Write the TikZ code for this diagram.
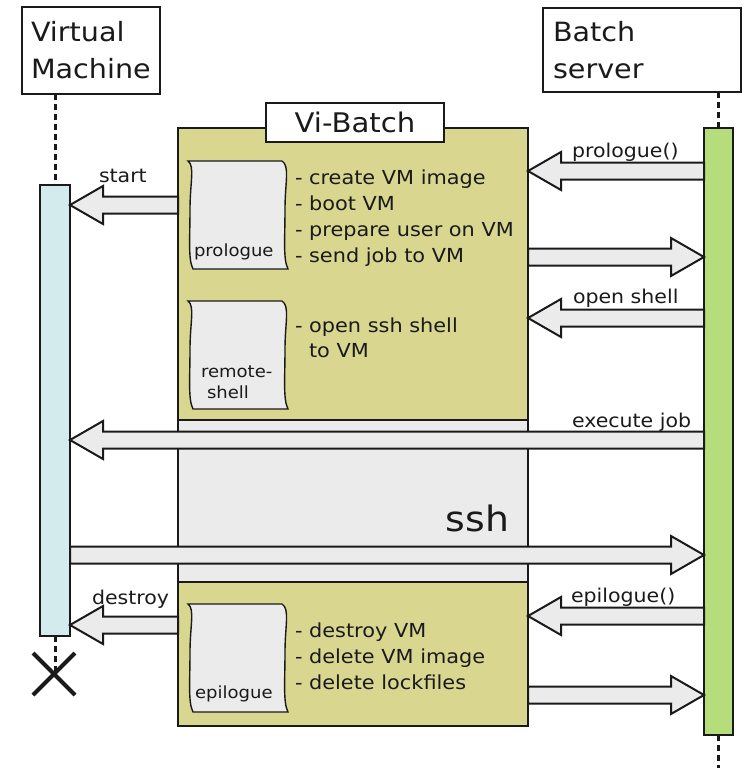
\documentclass[tikz,border=0pt]{standalone}
\usepackage{fontspec}
\setmainfont{DejaVu Sans}[FakeStretch=1.08]
\usetikzlibrary{calc}
\definecolor{olivebox}{HTML}{D9D690}
\definecolor{panelgray}{HTML}{EBEBEB}
\definecolor{srvgreen}{HTML}{B5DD7C}
\definecolor{vmblue}{HTML}{D4EBEE}
\definecolor{ink}{HTML}{1A1A1A}

\begin{document}
\begin{tikzpicture}[x=1pt,y=-1pt,
  every node/.style={inner sep=0pt, outer sep=0pt},
  header/.style={draw=ink, line width=2.5pt, fill=white, anchor=north west,
    align=left, font=\fontsize{26.5}{37}\selectfont, text=ink},
  lifeline/.style={draw=ink, line width=3pt, dash pattern=on 6pt off 4pt},
  actbar/.style={draw=ink, line width=2.6pt, anchor=north west},
  item/.style={anchor=base west, font=\fontsize{19.3}{26}\selectfont, text=ink},
  msg/.style={anchor=base west, font=\fontsize{19}{22}\selectfont, text=ink},
  doclabel/.style={anchor=base west, font=\fontsize{16.7}{20}\selectfont, text=ink},
  blockarrow/.style={draw=ink, line width=2pt, fill=panelgray, line join=miter,
    to path={let \p1=(\tikztostart), \p2=(\tikztotarget),
      \p3=($(\tikztotarget)!33pt!(\tikztostart)$) in
      (\x1,\y1+8.5pt) -- (\x3,\y1+8.5pt) -- (\x3,\y1+19pt) -- (\x2,\y1)
      -- (\x3,\y1-19pt) -- (\x3,\y1-8.5pt) -- (\x1,\y1-8.5pt) -- cycle}},
  pics/docshape/.style={code={
    \draw[draw=ink, line width=1.4pt, fill=panelgray]
      (0,0) -- (94,0) .. controls (102,5) and (97,22) .. (97,48)
      .. controls (97,78) and (95,98) .. (100,108) -- (5,108)
      .. controls (0,98) and (2,78) .. (2,48)
      .. controls (2,22) and (7,5) .. (0,0) -- cycle;
  }}
]
\useasboundingbox (0,0) rectangle (743,768);

% participants
\node[header, minimum width=138pt, minimum height=87pt, text width=120pt] (vm) at (22,7) {Virtual\\Machine};
\node[header, minimum width=198pt, minimum height=84pt, text width=178pt] (bs) at (543,8) {Batch\\server};

% Vi-Batch column with its ssh section
\node[draw=ink, line width=2.5pt, fill=olivebox, anchor=north west,
  minimum width=350pt, minimum height=598pt] (vib) at (178,128) {};
\node[draw=ink, line width=2.5pt, fill=panelgray, anchor=north west,
  minimum width=350pt, minimum height=162pt] (sshpart) at (178,420) {};
\node[draw=ink, line width=2.5pt, fill=white, minimum width=178pt, minimum height=39pt,
  font=\fontsize{27}{30}\selectfont, text=ink] (title) at (355,122.5) {Vi-Batch};
\node[anchor=base east, font=\fontsize{35}{40}\selectfont, text=ink] (sshlabel) at (509,531) {ssh};

% script documents
\pic at (188,161) {docshape};
\pic at (188,301) {docshape};
\pic at (188,604) {docshape};
\node[doclabel] (prolab) at (194,256) {prologue};
\node[doclabel] (remlab1) at (201,377) {remote-};
\node[doclabel] (remlab2) at (207,398) {shell};
\node[doclabel] (epilab) at (195,698) {epilogue};

% task lists
\node[item] (p1) at (295,184) {- create VM image};
\node[item] (p2) at (295,210) {- boot VM};
\node[item] (p3) at (295,236) {- prepare user on VM};
\node[item] (p4) at (295,262) {- send job to VM};
\node[item] (r1) at (295,332) {- open ssh shell};
\node[item] (r2) at (309,357) {to VM};
\node[item] (e1) at (295,637) {- destroy VM};
\node[item] (e2) at (295,663) {- delete VM image};
\node[item] (e3) at (295,689) {- delete lockfiles};

% lifelines and activation bars
\coordinate (xmark) at (55,674);
\coordinate (vmtop) at (55,94);
\coordinate (bstop) at (718.5,92);
\draw[lifeline] (vmtop) -- (55,185);
\draw[lifeline] (bstop) -- (718.5,128);
\draw[lifeline] (55,636) -- (xmark);
\draw[lifeline] (718.5,735) -- (718.5,768);
\node[actbar, fill=vmblue, minimum width=30pt, minimum height=451pt] (vbar) at (40,185) {};
\node[actbar, fill=srvgreen, minimum width=29pt, minimum height=607pt] (bbar) at (704,128) {};
\draw[ink, line width=4.2pt] ($(xmark)+(-22,-21)$) -- ($(xmark)+(20,21)$);
\draw[ink, line width=4.2pt] ($(xmark)+(-22,21)$) -- ($(xmark)+(20,-21)$);

% messages
\draw[blockarrow] (bbar.west |- 0,171) to (vib.east |- 0,171);
\draw[blockarrow] (vib.east |- 0,257) to (bbar.west |- 0,257);
\draw[blockarrow] (bbar.west |- 0,318) to (vib.east |- 0,318);
\draw[blockarrow] (bbar.west |- 0,440) to (vbar.east |- 0,440);
\draw[blockarrow] (vbar.east |- 0,555) to (bbar.west |- 0,555);
\draw[blockarrow] (bbar.west |- 0,616) to (vib.east |- 0,616);
\draw[blockarrow] (vib.east |- 0,695) to (bbar.west |- 0,695);
\draw[blockarrow] (vib.west |- 0,205) to (vbar.east |- 0,205);
\draw[blockarrow] (vib.west |- 0,625) to (vbar.east |- 0,625);

\node[msg] (mstart) at (99,182) {start};
\node[msg] (mdestroy) at (92,604) {destroy};
\node[msg] (mprologue) at (572,157) {prologue()};
\node[msg] (mshell) at (573,303) {open shell};
\node[msg] (mexec) at (572,427) {execute job};
\node[msg] (mepilogue) at (571,602) {epilogue()};
\end{tikzpicture}
\end{document}
